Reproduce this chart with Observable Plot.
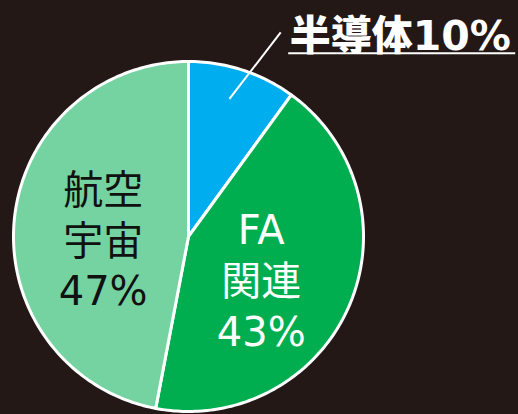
<!DOCTYPE html>
<html>
<head>
<meta charset="utf-8">
<script src="https://cdn.jsdelivr.net/npm/d3@7"></script>
<script src="https://cdn.jsdelivr.net/npm/@observablehq/plot@0.6"></script>
<style>
  html, body { margin: 0; padding: 0; background: #231815; }
  #chart svg { display: block; }
</style>
</head>
<body>
<div id="chart"></div>
<script>
// ---- data ----
const categories = ["半導体", "FA関連", "航空宇宙"];
const shares = [10, 43, 47];
const labelLines = [["半導体10%"], ["FA", "関連", "43%"], ["航空", "宇宙", "47%"]];
const colors = ["#00AEEF", "#00AE50", "#74D3A0"];
const textColors = ["#ffffff", "#ffffff", "#111111"];

// ---- geometry (unit circle, angles clockwise from 12 o'clock) ----
const W = 518, H = 414, R = 175, CX = 188, CY = 236;
const total = d3.sum(shares);
let acc = 0;
const slices = categories.map((c, i) => {
  const a0 = acc / total * 2 * Math.PI;
  acc += shares[i];
  const a1 = acc / total * 2 * Math.PI;
  const n = Math.max(2, Math.ceil((a1 - a0) / (Math.PI / 180)));
  const pts = [{x: 0, y: 0}];
  for (let k = 0; k <= n; k++) {
    const a = a0 + (a1 - a0) * k / n;
    pts.push({x: Math.sin(a), y: Math.cos(a)});
  }
  pts.push({x: 0, y: 0});
  return {category: c, a0, a1, mid: (a0 + a1) / 2, pts, color: colors[i]};
});
const polar = (a, r) => ({x: Math.sin(a) * r, y: Math.cos(a) * r});

const font = "'DejaVu Sans', 'Noto Sans CJK JP', sans-serif";

// inside labels
const inside = [1, 2].map(i => {
  const p = polar(slices[i].mid, 0.49);
  return {...p, text: labelLines[i].join("\n"), fill: textColors[i], i};
});

// outside label for small slice
const s0 = slices[0];
const leadIn = polar(s0.mid - 0.025, 0.82);
const leadOut = polar(s0.mid + 0.11, 1.28);
const outLabel = [{x: leadOut.x + 9 / R, y: leadOut.y - 5 / R, text: labelLines[0][0]}];
const underline = [{y: leadOut.y - 21 / R, x1: leadOut.x + 8 / R, x2: leadOut.x + 235 / R}];

const chart = Plot.plot({
  width: W,
  height: H,
  margin: 0,
  x: {domain: [-CX / R, (W - CX) / R], axis: null},
  y: {domain: [-(H - CY) / R, CY / R], axis: null},
  style: {background: "#231815"},
  marks: [
    ...slices.map(s => Plot.line(s.pts, {
      x: "x", y: "y", fill: s.color, stroke: "#ffffff", strokeWidth: 3,
      strokeLinejoin: "round", curve: "linear"
    })),
    Plot.text(inside.filter(d => d.i === 1), {
      x: "x", y: "y", text: "text", fill: "fill", fontSize: 40, lineHeight: 1.27,
      fontFamily: font, dx: -6, dy: 8, lineAnchor: "middle"
    }),
    Plot.text(inside.filter(d => d.i === 2), {
      x: "x", y: "y", text: "text", fill: "fill", fontSize: 40, lineHeight: 1.27,
      fontFamily: font, dx: 0, dy: 10, lineAnchor: "middle"
    }),
    Plot.link([{x1: leadIn.x, y1: leadIn.y, x2: leadOut.x, y2: leadOut.y}], {
      x1: "x1", y1: "y1", x2: "x2", y2: "y2", stroke: "#ffffff", strokeWidth: 2
    }),
    Plot.text(outLabel, {
      x: "x", y: "y", text: "text", fill: "#ffffff", fontSize: 41, fontWeight: 900,
      fontFamily: font, textAnchor: "start", lineAnchor: "middle",
      letterSpacing: 2.5
    }),
    Plot.ruleY(underline, {y: "y", x1: "x1", x2: "x2", stroke: "#ffffff", strokeWidth: 2})
  ]
});
document.getElementById("chart").appendChild(chart);
</script>
</body>
</html>
